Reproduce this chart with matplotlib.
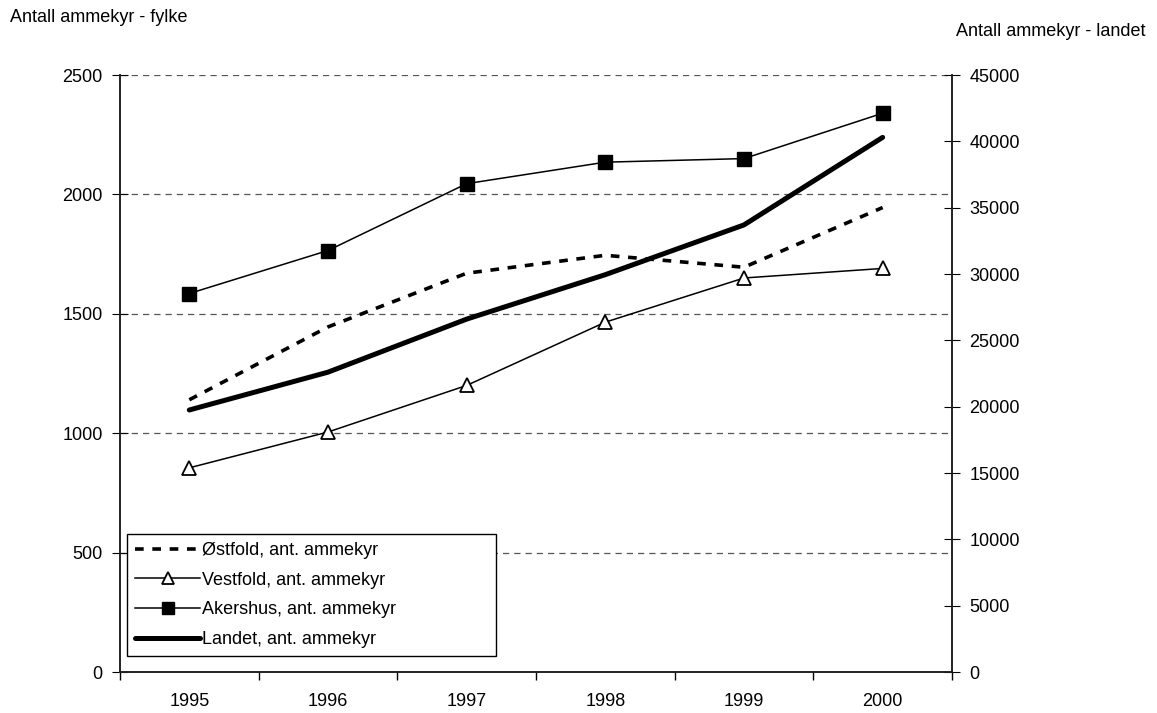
import matplotlib
matplotlib.use("Agg")
from matplotlib import pyplot as plt
import numpy as np

plt.rcParams['font.family'] = ['Liberation Sans', 'DejaVu Sans']

years = ['1995', '1996', '1997', '1998', '1999', '2000']
ostfold = [1140, 1445, 1670, 1745, 1695, 1945]
vestfold = [855, 1005, 1200, 1465, 1650, 1690]
akershus = [1585, 1765, 2045, 2135, 2150, 2340]
landet = [19750, 22600, 26600, 29950, 33700, 40300]

x = np.arange(len(years))

fig = plt.figure(figsize=(11.57, 7.13), dpi=100)
ax = fig.add_axes([0.1037, 0.0575, 0.7191, 0.8373])
ax2 = ax.twinx()

l1, = ax.plot(x, ostfold, color='black', lw=2.6, linestyle=(0, (2.4, 2.4)),
              label='Østfold, ant. ammekyr')
l2, = ax.plot(x, vestfold, color='black', lw=1.1, marker='^', ms=10,
              mfc='white', mec='black', mew=1.3, label='Vestfold, ant. ammekyr')
l3, = ax.plot(x, akershus, color='black', lw=1.1, marker='s', ms=10.5,
              mfc='black', mec='black', label='Akershus, ant. ammekyr')
l4, = ax2.plot(x, landet, color='black', lw=3.6, solid_capstyle='round',
               label='Landet, ant. ammekyr')

ax.set_xlim(-0.5, len(years) - 0.5)
ax.set_ylim(0, 2500)
ax2.set_ylim(0, 45000)
ax.set_yticks(np.arange(0, 2501, 500))
ax2.set_yticks(np.arange(0, 45001, 5000))
ax.set_xticks(x)
ax.set_xticklabels(years)
ax.set_xticks(np.arange(-0.5, len(years)), minor=True)
ax.tick_params(axis='x', which='major', length=0, pad=15, labelsize=13)
ax.tick_params(axis='x', which='minor', length=6, direction='out', width=1)
ax.tick_params(axis='y', direction='inout', length=11, labelsize=13, pad=7)
ax2.tick_params(axis='y', direction='inout', length=11, labelsize=13, pad=7)

for v in np.arange(500, 2501, 500):
    ax.axhline(v, color='#555555', lw=0.9, linestyle=(0, (5, 4)), zorder=0)

ax.spines['top'].set_visible(False)
ax2.spines['top'].set_visible(False)
for a in (ax, ax2):
    for s in ('left', 'right', 'bottom'):
        a.spines[s].set_color('#222222')
        a.spines[s].set_linewidth(1.2)

leg = ax2.legend(handles=[l1, l2, l3, l4], loc='lower left',
                 bbox_to_anchor=(0.0084, 0.0268, 0.4435, 0.2), mode='expand',
                 fontsize=13, frameon=True,
                 fancybox=False, edgecolor='black', framealpha=1,
                 handlelength=3.6, handletextpad=0.1, borderpad=0.45,
                 labelspacing=0.7, borderaxespad=0)
leg.get_frame().set_linewidth(1.0)
for h in leg.legend_handles:
    if h.get_marker() not in (None, 'None', ''):
        h.set_markersize(9)

fig.text(10 / 1157, 1 - 18 / 713, 'Antall ammekyr - fylke', fontsize=13,
         ha='left', va='center')
fig.text(1146 / 1157, 1 - 32 / 713, 'Antall ammekyr - landet', fontsize=13,
         ha='right', va='center')

fig.savefig('out.png', dpi=100)
